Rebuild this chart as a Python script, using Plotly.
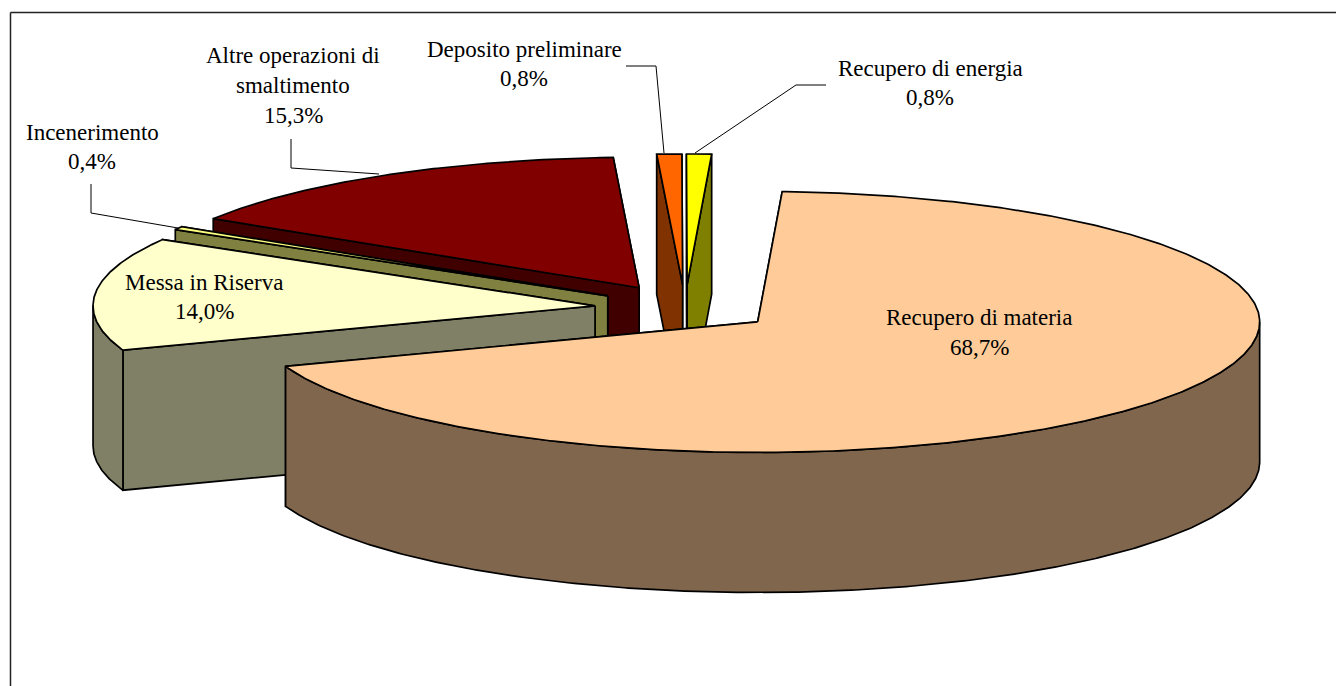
import numpy as np
import plotly.graph_objects as go

labels = ["Recupero di materia", "Messa in Riserva", "Incenerimento",
          "Altre operazioni di smaltimento", "Deposito preliminare", "Recupero di energia"]
values = [68.7, 14.0, 0.4, 15.3, 0.8, 0.8]

top_colors = ["#FFCC99", "#FFFFCC", "#FFFF80", "#800000", "#FF6600", "#FFFF00"]
side_colors = ["#80664D", "#808066", "#808040", "#400000", "#803300", "#808000"]

# pie geometry, in page pixels
cx, cy = 685, 308
rx, ry = 502, 130.5
depth = 140
explode = 0.18
first_angle = 2.8
line_w = 1.7

# text lines of each label: x centre, then y of each line
label_lines = [
    (979, [317, 347], ["Recupero di materia"]),
    (204, [282, 311], ["Messa in Riserva"]),
    (92, [132, 161], ["Incenerimento"]),
    (293, [55, 85, 115], ["Altre operazioni di", "smaltimento"]),
    (524, [49, 78], ["Deposito preliminare"]),
    (930, [68, 97], ["Recupero di energia"]),
]

leaders = [
    ([91, 91, 178], [184, 213, 228]),
    ([291, 291, 379], [139, 168, 174]),
    ([626, 656, 664], [66, 66, 153]),
    ([826, 796, 695], [85, 85, 153]),
]


def arc(ax, ay, a0, a1):
    # angles are degrees clockwise from the top of the ellipse
    t = np.radians(np.linspace(a0, a1, max(int(abs(a1 - a0) * 2), 2)))
    return ax + rx * np.sin(t), ay - ry * np.cos(t)


def face(fig, x, y, color):
    fig.add_trace(go.Scatter(x=list(x) + [x[0]], y=list(y) + [y[0]], mode="lines",
                             fill="toself", fillcolor=color,
                             line=dict(color="black", width=line_w),
                             hoverinfo="skip", showlegend=False))


fig = go.Figure()

# slices are painted back to front
angles = first_angle + np.concatenate([[0], np.cumsum(values)]) * 3.6
for i in [3, 2, 4, 5, 1, 0]:
    a0, a1 = angles[i], angles[i + 1]
    mid = np.radians((a0 + a1) / 2)
    ax = cx + explode * rx * np.sin(mid)
    ay = cy - explode * ry * np.cos(mid)
    x, y = arc(ax, ay, a0, a1)

    edges = sorted([(x[0], y[0]), (x[-1], y[-1])], key=lambda p: p[1])
    for ex, ey in edges:
        face(fig, [ax, ex, ex, ax], [ay, ey, ey + depth, ay + depth], side_colors[i])

    w0, w1 = max(a0, 90), min(a1, 270)
    if w0 < w1:
        wx, wy = arc(ax, ay, w0, w1)
        face(fig, np.r_[wx, wx[::-1]], np.r_[wy, wy[::-1] + depth], side_colors[i])

    face(fig, np.r_[ax, x], np.r_[ay, y], top_colors[i])

for lx, ly in leaders:
    fig.add_trace(go.Scatter(x=lx, y=ly, mode="lines", line=dict(color="black", width=1),
                             hoverinfo="skip", showlegend=False))

for v, (xc, ys, lines) in zip(values, label_lines):
    pct = f"{v:.1f}%".replace(".", ",")
    for txt, yc in zip(lines + [pct], ys):
        fig.add_annotation(x=xc, y=yc, text=txt, showarrow=False, xanchor="center", yanchor="middle",
                           font=dict(family="Liberation Serif", size=23, color="black"))

# chart frame, only top and left sides fall inside the page
fig.add_shape(type="line", x0=10.5, x1=1336, y0=12.5, y1=12.5, line=dict(color="#222222", width=1.5))
fig.add_shape(type="line", x0=10.5, x1=10.5, y0=12.5, y1=686, line=dict(color="#222222", width=1.5))

fig.update_layout(width=1336, height=686, margin=dict(l=0, r=0, t=0, b=0),
                  paper_bgcolor="white", plot_bgcolor="white")
fig.update_xaxes(range=[0, 1336], visible=False, fixedrange=True)
fig.update_yaxes(range=[686, 0], visible=False, fixedrange=True)

fig.write_html("out.html", config=dict(displayModeBar=False),
               post_script="document.body.style.margin='0';")
